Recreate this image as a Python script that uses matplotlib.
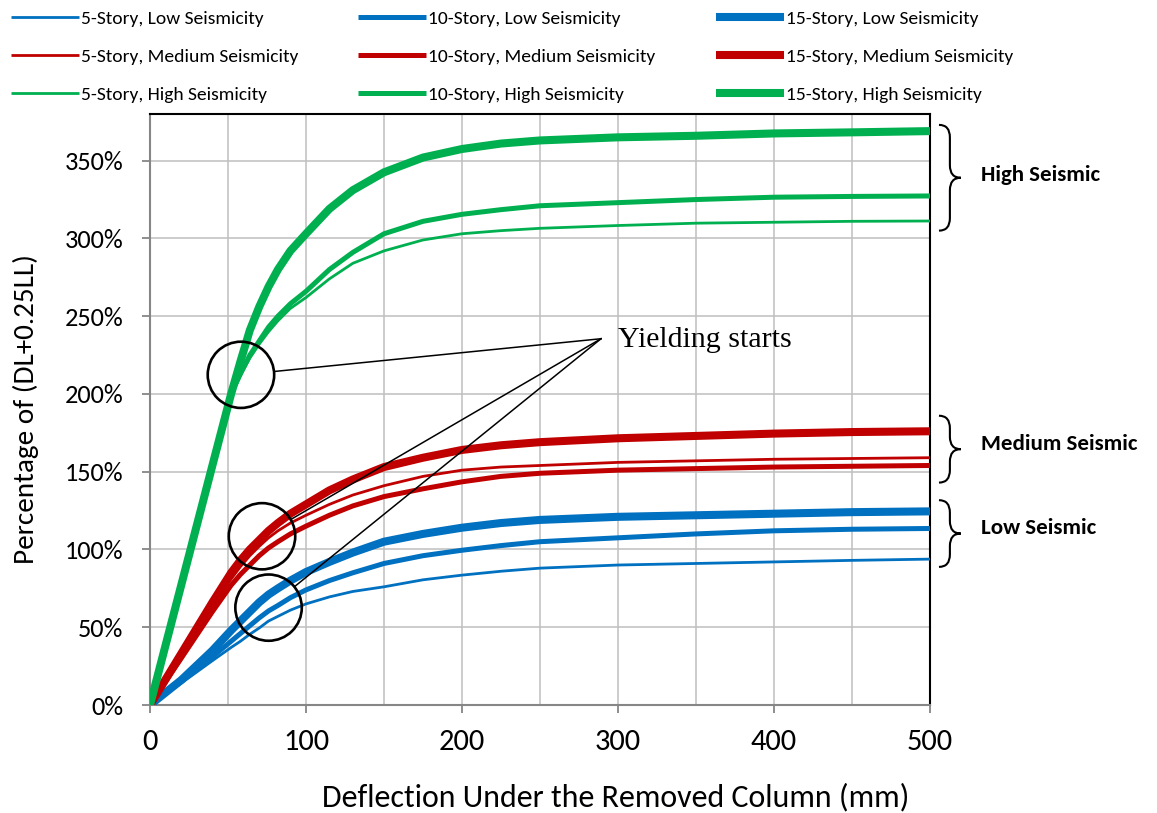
import matplotlib
matplotlib.use("Agg")
import numpy as np
import matplotlib.pyplot as plt
from matplotlib import font_manager
from matplotlib.patches import Ellipse, PathPatch
from matplotlib.path import Path
from matplotlib.ticker import MultipleLocator, FuncFormatter
from matplotlib.transforms import blended_transform_factory

# pick a Calibri-like face if one is installed
available = {f.name for f in font_manager.fontManager.ttflist}
sans = next(n for n in ["Carlito", "Lato", "DejaVu Sans"] if n in available)
plt.rcParams["font.family"] = [sans, "DejaVu Sans"]

# ---- data: deflection (mm) vs. load as % of (DL+0.25LL) ----
deflection = [0, 20, 40, 52, 58, 64, 70, 76, 82, 90, 100, 115, 130, 150,
              175, 200, 225, 250, 300, 350, 400, 450, 500]

low_5 = [0, 14, 28.5, 37, 41, 45.5, 49.5, 54, 57, 61, 65, 69.5, 73, 76,
         80.5, 83.5, 86, 88, 90, 91, 92, 93, 93.8]
low_10 = [0, 15, 31, 41, 46, 51, 56, 60.5, 64, 69, 74, 80, 85, 91,
          96, 99.5, 102.5, 105, 107.5, 110, 112, 113, 113.5]
low_15 = [0, 16, 35, 48, 54, 60, 66, 71, 75, 80, 85.5, 92, 98, 105,
          110, 114, 117, 119, 121, 122, 123, 124, 124.5]

med_5 = [0, 32, 63, 81, 89, 96, 102, 107.5, 112, 117, 122, 129, 135, 141,
         147, 151, 153, 154, 156, 157, 158, 158.5, 159]
med_10 = [0, 30, 60, 77, 84, 90, 96, 101, 105, 110, 115, 122, 128, 134,
          139, 143.5, 147, 149, 151, 152, 153, 153.5, 154]
med_15 = [0, 33, 66, 85, 93, 100, 106, 112, 117, 123, 129, 138, 145, 153,
          159, 164, 167, 169, 171.5, 173, 174.5, 175.5, 176]

high_5 = [0, 77, 154, 199, 212, 223, 232, 240, 247, 255, 262, 274, 284, 292,
          299, 303, 305, 306.5, 308.3, 309.8, 310.4, 311, 311.2]
high_10 = [0, 77, 154, 200, 213, 225, 234, 243, 250, 258, 266, 280, 291, 303,
           311, 315.5, 318.5, 321, 323, 325, 326.5, 327, 327.3]
high_15 = [0, 77, 154, 200, 221, 241, 256, 269, 280, 292, 303, 319, 331, 342.5,
           352, 357.5, 361, 363, 365, 366, 367.5, 368.2, 369]

stories = ["5-Story", "10-Story", "15-Story"]
levels = ["Low", "Medium", "High"]
series = {
    "Low": [low_5, low_10, low_15],
    "Medium": [med_5, med_10, med_15],
    "High": [high_5, high_10, high_15],
}
level_colors = {"Low": "#0070C0", "Medium": "#C00000", "High": "#00B050"}
story_widths = [2.0, 3.6, 5.8]

# yielding points circled on the plot (mm, %)
yield_points = [(58.3, 212.3), (71.8, 108.5), (76.0, 62.6)]
yield_label_xy = (289.1, 235.5)

fig = plt.figure(figsize=(11.57, 8.13), dpi=100)
ax = fig.add_axes([150 / 1157, 108 / 813, 780 / 1157, 591 / 813])

handles = {}
for lev in levels:
    for i, st in enumerate(stories):
        ln, = ax.plot(deflection, series[lev][i], color=level_colors[lev],
                      lw=story_widths[i], solid_capstyle="butt",
                      solid_joinstyle="round", zorder=3,
                      label=f"{st}, {lev} Seismicity")
        handles[(lev, i)] = ln

ax.set_xlim(0, 500)
ax.set_ylim(0, 380)
ax.xaxis.set_major_locator(MultipleLocator(100))
ax.xaxis.set_minor_locator(MultipleLocator(50))
ax.set_yticks(np.arange(0, 351, 50))
ax.yaxis.set_major_formatter(FuncFormatter(lambda v, p: f"{v:.0f}%"))

ax.grid(True, which="both", axis="x", color="#BFBFBF", lw=1.1, zorder=0)
ax.grid(True, which="major", axis="y", color="#BFBFBF", lw=1.1, zorder=0)
ax.set_axisbelow(True)

ax.tick_params(axis="both", which="major", direction="out", length=6,
               width=1.3, color="#868686")
ax.tick_params(axis="x", which="major", pad=11, labelsize=22)
ax.tick_params(axis="y", which="major", pad=13, labelsize=19)
ax.tick_params(axis="x", which="minor", length=0)

for side in ["left", "bottom"]:
    ax.spines[side].set_color("#868686")
    ax.spines[side].set_linewidth(1.5)
for side in ["top", "right"]:
    ax.spines[side].set_color("black")
    ax.spines[side].set_linewidth(1.5)

ax.set_xlabel("Deflection Under the Removed Column (mm)", fontsize=23)
ax.xaxis.label.set_va("center")
ax.xaxis.set_label_coords(0.597, -0.156)
ax.set_ylabel("Percentage of (DL+0.25LL)", fontsize=21)
ax.yaxis.label.set_va("center")
ax.yaxis.set_label_coords(-0.159, 0.5)

# circles around the start of yielding, joined to one label
r = 21.3
for cx, cy in yield_points:
    ax.add_patch(Ellipse((cx, cy), 2 * r, 2 * r, fill=False, ec="black",
                         lw=1.9, zorder=5))
    dx, dy = yield_label_xy[0] - cx, yield_label_xy[1] - cy
    d = np.hypot(dx, dy)
    ax.plot([cx + r * dx / d, yield_label_xy[0]],
            [cy + r * dy / d, yield_label_xy[1]],
            color="black", lw=1.1, zorder=5)
ax.text(yield_label_xy[0] + 11, yield_label_xy[1] - 1, "Yielding starts",
        family="Liberation Serif", fontsize=21.5, ha="left", va="center")

# curly braces grouping the curves by seismicity
brace_tr = blended_transform_factory(ax.transAxes, ax.transData)


def brace(top, bottom, x0=1.0115, w=0.028, hook=8):
    mid = (top + bottom) / 2
    xm = x0 + w / 2
    verts = [(x0, top), (xm, top), (xm, top - hook),
             (xm, mid + hook),
             (xm, mid), (x0 + w, mid),
             (xm, mid), (xm, mid - hook),
             (xm, bottom + hook),
             (xm, bottom), (x0, bottom)]
    codes = [Path.MOVETO, Path.CURVE3, Path.CURVE3, Path.LINETO,
             Path.CURVE3, Path.CURVE3, Path.CURVE3, Path.CURVE3,
             Path.LINETO, Path.CURVE3, Path.CURVE3]
    ax.add_patch(PathPatch(Path(verts, codes), fill=False, ec="black",
                           lw=1.5, transform=brace_tr, clip_on=False))


brace_groups = [("High Seismic", 373, 305, 341),
                ("Medium Seismic", 186, 143, 168),
                ("Low Seismic", 131.7, 88.8, 113.7)]
for name, top, bottom, ty in brace_groups:
    brace(top, bottom)
    ax.text(1.066, ty, name, transform=brace_tr, fontsize=16.5,
            fontweight="bold", ha="left", va="center")

# legend: one row per seismicity level, one column per building height
order = [handles[(lev, i)] for i in range(3) for lev in levels]
fig.legend(handles=order, labels=[h.get_label() for h in order], ncol=3,
           loc="upper left", bbox_to_anchor=(0.0, 1.0), frameon=False,
           fontsize=14, handlelength=3.5, handletextpad=0.1,
           columnspacing=3.1, labelspacing=1.08, borderaxespad=0.15)

fig.savefig("out.png", dpi=100)
